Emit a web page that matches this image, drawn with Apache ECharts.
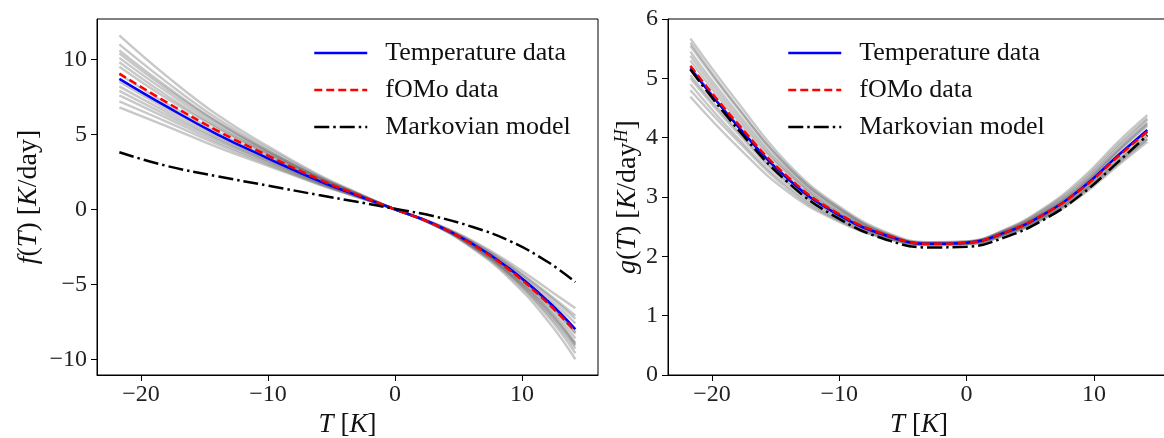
<!DOCTYPE html>
<html>
<head>
<meta charset="utf-8">
<script src="https://cdn.jsdelivr.net/npm/echarts@6/dist/echarts.min.js"></script>
<style>html,body{margin:0;padding:0;background:#fff}#c{width:1164px;height:438px}</style>
</head>
<body>
<div id="c"></div>
<script>
// ---- data ----
const xs = [-21.7, -18, -14, -10, -6, -3, 0, 3, 6, 9, 12, 14.2];
const xTicks = [-20, -10, 0, 10];
const fTicks = [-10, -5, 0, 5, 10];
const gTicks = [0, 1, 2, 3, 4, 5, 6];
const legendNames = ['Temperature data', 'fOMo data', 'Markovian model'];

const fTemp   = [8.70, 6.86, 5.00, 3.40, 1.90, 0.93, 0, -0.95, -2.25, -3.95, -6.10, -8.00];
const fFomo   = [9.05, 7.15, 5.25, 3.58, 2.00, 0.98, 0, -0.97, -2.30, -4.05, -6.25, -8.16];
const fMarkov = [3.80, 2.90, 2.20, 1.58, 0.95, 0.50, 0.03, -0.45, -1.15, -2.10, -3.50, -4.85];
const fEnsemble = [
  [11.6, 8.9, 6.3, 4.2, 2.3, 1.12, 0, -0.9, -2.05, -3.55, -5.3, -6.6],
  [6.8, 5.55, 4.15, 2.9, 1.65, 0.82, 0, -1.02, -2.45, -4.35, -6.95, -9.3],
  [10.6, 8.2, 5.85, 3.9, 2.15, 1.05, 0, -1.0, -2.4, -4.3, -6.8, -9.1],
  [7.6, 6.1, 4.5, 3.1, 1.75, 0.86, 0, -0.92, -2.12, -3.7, -5.6, -7.1],
  [9.5, 7.4, 5.4, 3.65, 2.03, 0.99, 0, -0.97, -2.32, -4.1, -6.45, -8.6],
  [8.2, 6.5, 4.75, 3.25, 1.83, 0.9, 0, -0.94, -2.2, -3.85, -5.9, -7.6],
  [10.1, 7.85, 5.65, 3.8, 2.1, 1.02, 0, -1.01, -2.48, -4.45, -7.1, -9.6],
  [7.2, 5.85, 4.35, 3.0, 1.7, 0.84, 0, -0.96, -2.28, -4.0, -6.25, -8.3],
  [9.0, 7.05, 5.15, 3.5, 1.96, 0.96, 0, -0.98, -2.35, -4.2, -6.6, -8.9],
  [11.0, 8.5, 6.05, 4.05, 2.22, 1.08, 0, -0.93, -2.15, -3.75, -5.7, -7.3],
  [8.5, 6.7, 4.9, 3.35, 1.88, 0.92, 0, -1.03, -2.55, -4.6, -7.4, -10.0],
  [9.8, 7.6, 5.5, 3.72, 2.07, 1.0, 0, -0.95, -2.25, -3.95, -6.1, -8.0],
  [7.9, 6.3, 4.65, 3.2, 1.8, 0.88, 0, -0.99, -2.38, -4.25, -6.7, -9.0],
  [10.4, 8.05, 5.8, 3.88, 2.13, 1.04, 0, -0.96, -2.28, -4.0, -6.2, -8.2]
];

const gTemp   = [5.17, 4.20, 3.30, 2.69, 2.33, 2.21, 2.23, 2.40, 2.70, 3.14, 3.72, 4.13];
const gFomo   = [5.21, 4.24, 3.33, 2.71, 2.34, 2.21, 2.23, 2.40, 2.70, 3.13, 3.70, 4.10];
const gMarkov = [5.15, 4.15, 3.24, 2.63, 2.26, 2.15, 2.16, 2.32, 2.61, 3.04, 3.61, 4.04];
const gEnsemble = [
  [5.67, 4.6, 3.55, 2.84, 2.38, 2.24, 2.25, 2.45, 2.8, 3.3, 3.95, 4.38],
  [4.69, 3.85, 3.08, 2.58, 2.28, 2.19, 2.2, 2.35, 2.62, 3.02, 3.55, 3.93],
  [5.45, 4.42, 3.45, 2.78, 2.35, 2.23, 2.24, 2.42, 2.74, 3.2, 3.82, 4.25],
  [4.9, 4.0, 3.17, 2.62, 2.3, 2.2, 2.22, 2.38, 2.66, 3.08, 3.63, 4.02],
  [5.3, 4.3, 3.38, 2.73, 2.33, 2.22, 2.23, 2.41, 2.72, 3.17, 3.78, 4.2],
  [5.05, 4.12, 3.25, 2.67, 2.31, 2.2, 2.22, 2.39, 2.69, 3.12, 3.69, 4.1],
  [5.55, 4.5, 3.5, 2.81, 2.36, 2.23, 2.25, 2.44, 2.78, 3.26, 3.9, 4.33],
  [4.8, 3.95, 3.13, 2.6, 2.29, 2.2, 2.21, 2.37, 2.65, 3.06, 3.6, 3.98],
  [5.2, 4.22, 3.32, 2.71, 2.33, 2.22, 2.24, 2.42, 2.73, 3.18, 3.8, 4.23],
  [5.38, 4.36, 3.41, 2.75, 2.34, 2.22, 2.22, 2.38, 2.67, 3.09, 3.64, 4.05],
  [5.0, 4.08, 3.22, 2.65, 2.31, 2.21, 2.24, 2.43, 2.76, 3.23, 3.86, 4.3],
  [5.6, 4.52, 3.5, 2.8, 2.35, 2.21, 2.21, 2.36, 2.64, 3.05, 3.58, 3.97]
];

// ---- chart ----
const FONT = 'Liberation Serif';
const pairs = v => xs.map((x, i) => [x, v[i]]);
const minus = v => String(v).replace('-', '\u2212');
const rich = {
  i: {fontFamily: FONT, fontStyle: 'italic', fontSize: 28, color: '#111', lineHeight: 30},
  n: {fontFamily: FONT, fontSize: 28, color: '#111', lineHeight: 30},
  s: {fontFamily: FONT, fontStyle: 'italic', fontSize: 18, color: '#111', lineHeight: 18, verticalAlign: 'top'}
};
const richX = {
  i: {fontFamily: FONT, fontStyle: 'italic', fontSize: 27, color: '#111', lineHeight: 28},
  n: {fontFamily: FONT, fontSize: 27, color: '#111', lineHeight: 28}
};

function xAxisCfg(gi) {
  return {
    gridIndex: gi, type: 'value', min: -23.46, max: 15.98,
    axisLine: {show: true, onZero: false, lineStyle: {color: '#000', width: 1}},
    axisTick: {show: true, length: 6, customValues: xTicks, lineStyle: {color: '#000', width: 1}},
    axisLabel: {customValues: xTicks, formatter: minus, fontFamily: FONT, fontSize: 24, color: '#222', margin: 8},
    splitLine: {show: false},
    name: '{i|T}{n| [}{i|K}{n|]}', nameLocation: 'middle', nameGap: 36,
    nameTextStyle: {rich: richX}
  };
}

const gridBase = {top: 19, height: 356, show: true, borderColor: '#000', borderWidth: 1,
  backgroundColor: 'transparent', outerBoundsMode: 'none', containLabel: false};

const option = {
  animation: false,
  backgroundColor: '#fff',
  grid: [
    Object.assign({left: 97, width: 501}, gridBase),
    Object.assign({left: 668, width: 502}, gridBase)
  ],
  xAxis: [xAxisCfg(0), xAxisCfg(1)],
  yAxis: [
    {
      gridIndex: 0, type: 'value', min: -11.05, max: 12.69,
      axisLine: {show: true, onZero: false, lineStyle: {color: '#000', width: 1}},
      axisTick: {show: true, length: 6, customValues: fTicks, lineStyle: {color: '#000'}},
      axisLabel: {customValues: fTicks, formatter: minus, fontFamily: FONT, fontSize: 24, color: '#222', margin: 10},
      splitLine: {show: false},
      name: '{i|f}{n|(}{i|T}{n|) [}{i|K}{n|/day]}', nameLocation: 'middle', nameGap: 53,
      nameTextStyle: {rich: rich}
    },
    {
      gridIndex: 1, type: 'value', min: 0, max: 6, interval: 1,
      axisLine: {show: true, onZero: false, lineStyle: {color: '#000', width: 1}},
      axisTick: {show: true, length: 6, lineStyle: {color: '#000'}},
      axisLabel: {fontFamily: FONT, fontSize: 24, color: '#222', margin: 10},
      splitLine: {show: false},
      name: '{i|g}{n|(}{i|T}{n|) [}{i|K}{n|/day}{s|H}{n|]}', nameLocation: 'middle', nameGap: 23,
      nameTextStyle: {rich: rich}
    }
  ],
  legend: [0, 1].map(k => ({
    data: legendNames, orient: 'vertical', left: k === 0 ? 313 : 787, top: 40,
    padding: 0,
    itemWidth: 53, itemHeight: 22, itemGap: 11,
    itemStyle: {opacity: 0},
    lineStyle: {width: 2.5},
    textStyle: {fontFamily: FONT, fontSize: 26, color: '#111', lineHeight: 26, padding: [0, 0, 0, 13]},
    selectedMode: false
  })),
  series: []
};

function addSeries(gi, ens, temp, fomo, markov) {
  ens.forEach((v, j) => option.series.push({
    name: 'ens' + gi + '_' + j, type: 'line', xAxisIndex: gi, yAxisIndex: gi,
    data: pairs(v), showSymbol: false, symbol: 'none', smooth: 0.45,
    lineStyle: {color: 'rgba(95,95,95,0.34)', width: 2.4}, silent: true, z: 1
  }));
  option.series.push({
    name: legendNames[0], type: 'line', xAxisIndex: gi, yAxisIndex: gi, data: pairs(temp),
    symbol: 'none', smooth: 0.45,
    lineStyle: {color: '#0000ff', width: 2.5}, itemStyle: {color: '#0000ff'}, z: 3
  });
  option.series.push({
    name: legendNames[1], type: 'line', xAxisIndex: gi, yAxisIndex: gi, data: pairs(fomo),
    symbol: 'none', smooth: 0.45,
    lineStyle: {color: '#ff0000', width: 2.5, type: [8, 4]}, itemStyle: {color: '#ff0000'}, z: 4
  });
  option.series.push({
    name: legendNames[2], type: 'line', xAxisIndex: gi, yAxisIndex: gi, data: pairs(markov),
    symbol: 'none', smooth: 0.45,
    lineStyle: {color: '#000000', width: 2.5, type: [15, 4, 2.5, 4]}, itemStyle: {color: '#000000'}, z: 5
  });
}
addSeries(0, fEnsemble, fTemp, fFomo, fMarkov);
addSeries(1, gEnsemble, gTemp, gFomo, gMarkov);

const chart = echarts.init(document.getElementById('c'), null, {renderer: 'canvas'});
chart.setOption(option);
</script>
</body>
</html>
